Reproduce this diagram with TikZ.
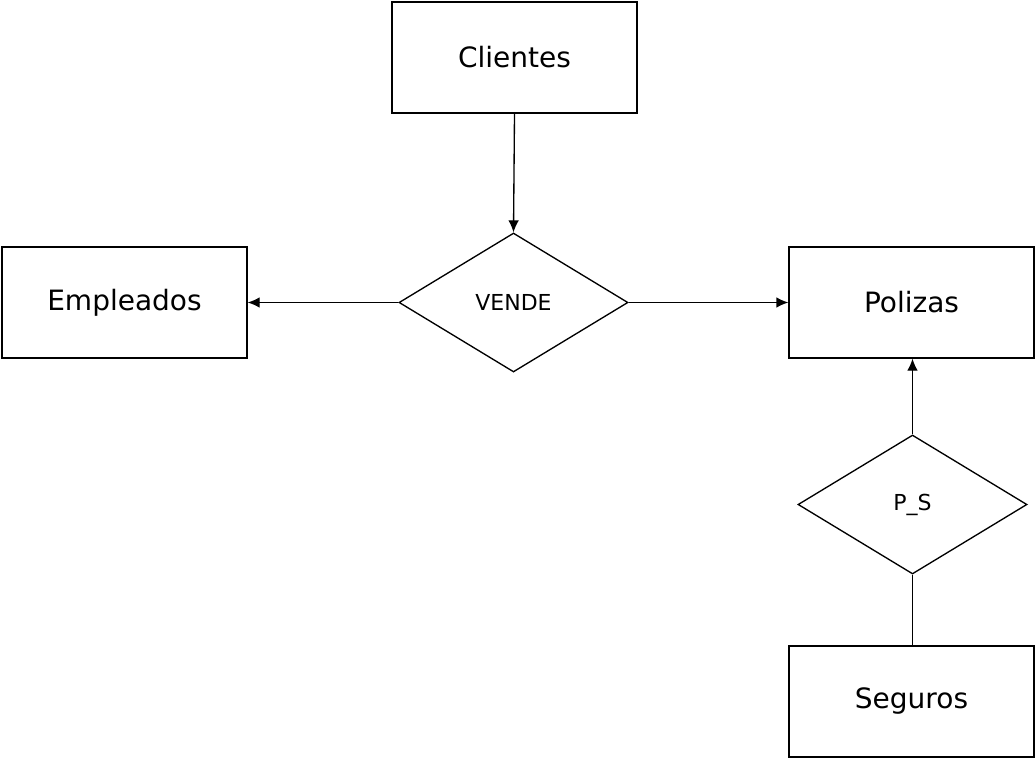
\documentclass[tikz,border=0pt]{standalone}
\usepackage{fontspec}
\setmainfont{DejaVu Sans}
\usetikzlibrary{shapes, shapes.geometric, arrows.meta, positioning}

\begin{document}
\begin{tikzpicture}[x=0.75pt, y=-0.75pt, line width=1pt]
% Define styles
\tikzstyle{entity} = [rectangle, draw, minimum width=183.75pt, minimum height=83.25pt, font=\fontsize{21pt}{25pt}\selectfont]
\tikzstyle{relation} = [diamond, draw, inner sep=0pt, minimum width=171.75pt, minimum height=104.25pt, font=\fontsize{16.5pt}{20pt}\selectfont]
\tikzstyle{arrow} = [-{Latex[length=9pt,width=8pt]}]

\useasboundingbox (0,0) rectangle (1035,759);

% Entities
\node (clientes) [entity] at (514.5,57.5) {Clientes};
\node (empleados) [entity] at (124.5,302.5) {Empleados};
\node (polizas) [entity] at (911.5,302.5) {Polizas};
\node (seguros) [entity] at (911.5,701.5) {Seguros};

% Relations
\node (vende) [relation] at (513.5,302.5) {VENDE};
\node (ps) [relation] at (912.5,504.5) {P\_S};

% Connectors
\draw [arrow] (clientes.south) -- (vende.north);
\draw [arrow] (vende) -- (empleados);
\draw [arrow] (vende) -- (polizas);
\draw [arrow] (ps.north) -- (ps.north |- polizas.south);
\draw (ps.south) -- (ps.south |- seguros.north);
\end{tikzpicture}
\end{document}
